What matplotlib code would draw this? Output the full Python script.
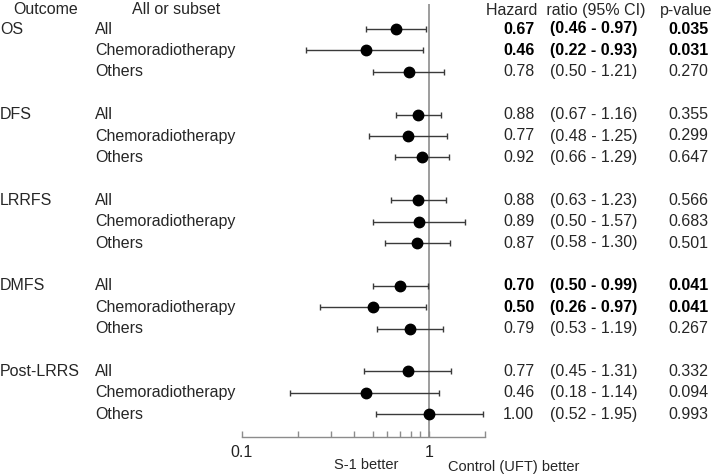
import matplotlib
matplotlib.use("Agg")
import matplotlib.pyplot as plt
import matplotlib.transforms as mtransforms
from matplotlib.ticker import FixedLocator, NullFormatter, FixedFormatter

plt.rcParams['font.family'] = ['Liberation Sans', 'DejaVu Sans']

outcomes = ["OS", "DFS", "LRRFS", "DMFS", "Post-LRRS"]
subsets = ["All", "Chemoradiotherapy", "Others"]
hr = [0.67, 0.46, 0.78, 0.88, 0.77, 0.92, 0.88, 0.89, 0.87, 0.70, 0.50, 0.79, 0.77, 0.46, 1.00]
ci_low = [0.46, 0.22, 0.50, 0.67, 0.48, 0.66, 0.63, 0.50, 0.58, 0.50, 0.26, 0.53, 0.45, 0.18, 0.52]
ci_high = [0.97, 0.93, 1.21, 1.16, 1.25, 1.29, 1.23, 1.57, 1.30, 0.99, 0.97, 1.19, 1.31, 1.14, 1.95]
p_values = ["0.035", "0.031", "0.270", "0.355", "0.299", "0.647", "0.566", "0.683", "0.501",
            "0.041", "0.041", "0.267", "0.332", "0.094", "0.993"]
significant = [True, True, False, False, False, False, False, False, False,
               True, True, False, False, False, False]
tick_values = [0.1, 1]
tick_labels = ["0.1", "1"]

W, H = 716, 476
fig = plt.figure(figsize=(W / 100, H / 100), dpi=100)

# pixel geometry
x01, x1px, x2px = 242, 429, 485
ytop, ybot = 4, 437
row0, rowh = 29, 21.4
ax = fig.add_axes([x01 / W, 1 - ybot / H, (x2px - x01) / W, (ybot - ytop) / H])
ax.set_xscale('log')
ax.set_xlim(0.1, 2.0)
ax.set_ylim((ybot - row0) / rowh, (ytop - row0) / rowh)

rows = []
for g in range(len(outcomes)):
    for s in range(len(subsets)):
        rows.append(g * 4 + s)

gray = '#8c8c8c'
ax.axvline(1, color=gray, lw=1.2, zorder=1)
for i, r in enumerate(rows):
    ax.errorbar(hr[i], r, xerr=[[hr[i] - ci_low[i]], [ci_high[i] - hr[i]]],
                fmt='o', color='black', ecolor='#3a3a3a', elinewidth=1.0,
                capsize=2.5, capthick=1.0, markersize=7.5, zorder=3)

for sp in ['top', 'left', 'right']:
    ax.spines[sp].set_visible(False)
ax.spines['bottom'].set_color(gray)
ax.spines['bottom'].set_linewidth(1.0)
ax.set_yticks([])
ax.xaxis.set_major_locator(FixedLocator(tick_values))
ax.xaxis.set_major_formatter(FixedFormatter(tick_labels))
ax.xaxis.set_minor_locator(FixedLocator([0.2, 0.3, 0.4, 0.5, 0.6, 0.7, 0.8, 0.9, 2.0]))
ax.xaxis.set_minor_formatter(NullFormatter())
ax.tick_params(axis='x', which='both', direction='in', length=4, width=1.0,
               color=gray, labelsize=11.5, labelcolor='#222222', pad=6)
ax.patch.set_visible(False)

trans = mtransforms.blended_transform_factory(fig.transFigure, ax.transData)
fs = 11.5
tc = '#262626'

def fx(px):
    return px / W

# headers
hy = (10 - row0) / rowh
fig_kw = dict(transform=trans, va='center', fontsize=fs, color=tc)
fig.text(fx(13), hy, "Outcome", **fig_kw)
fig.text(fx(132), hy, "All or subset", **fig_kw)
fig.text(fx(486), hy, "Hazard  ratio (95% CI)", **fig_kw)
fig.text(fx(660), hy, "p-value", **fig_kw)

for g, name in enumerate(outcomes):
    fig.text(fx(0), g * 4, name, **fig_kw)

for i, r in enumerate(rows):
    sub = subsets[i % 3]
    fig.text(fx(95), r, sub, **fig_kw)
    w = 'bold' if significant[i] else 'normal'
    c = 'black' if significant[i] else tc
    kw = dict(transform=trans, va='center', fontsize=fs, color=c, fontweight=w)
    fig.text(fx(503), r, f"{hr[i]:.2f}", **kw)
    fig.text(fx(550), r, f"({ci_low[i]:.2f} - {ci_high[i]:.2f})", **kw)
    fig.text(fx(668), r, p_values[i], **kw)

fig.text(fx(366), 1 - 465 / H, "S-1 better", ha='center', va='center', fontsize=10.5, color=tc)
fig.text(fx(448), 1 - 467 / H, "Control (UFT) better", ha='left', va='center', fontsize=10.5, color=tc)

fig.savefig("out.png", dpi=100)
